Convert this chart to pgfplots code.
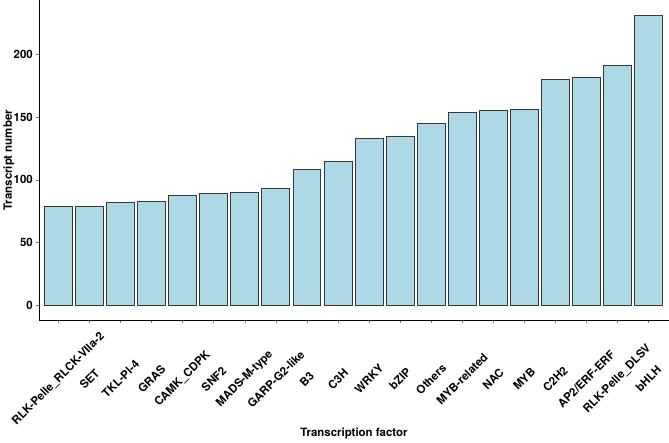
\documentclass[border=0pt]{standalone}
\usepackage{pgfplots}
\pgfplotsset{compat=1.18}
\usepackage{fontspec}
\setmainfont{TeX Gyre Heros}
\definecolor{barfill}{RGB}{173,216,230}
\definecolor{baredge}{RGB}{55,55,55}
\begin{document}
\begin{tikzpicture}
\begin{axis}[
  scale only axis, width=630bp, height=320bp,
  xmin=-0.62, xmax=19.65, ymin=-11.7, ymax=243,
  axis x line=bottom, axis y line=left,
  axis line style={-, line width=0.9bp, black},
  tick align=outside, major tick length=3bp,
  tick style={line width=0.6bp, black!55},
  xtick={0,...,19},
  xticklabels={RLK-Pelle\_RLCK-VIIa-2,SET,TKL-Pl-4,GRAS,CAMK\_CDPK,SNF2,MADS-M-type,GARP-G2-like,B3,C3H,WRKY,bZIP,Others,MYB-related,NAC,MYB,C2H2,AP2/ERF-ERF,RLK-Pelle\_DLSV,bHLH},
  ytick={0,50,100,150,200},
  /pgf/number format/assume math mode=true,
  tick label style={font=\fontsize{11.5}{13}\selectfont\bfseries, black},
  xticklabel style={yshift=-56bp, rotate=45, anchor=center},
  xlabel={Transcription factor}, ylabel={Transcript number},
  every axis x label/.style={at={(axis description cs:0.5,0)}, yshift=-117bp, anchor=base, font=\fontsize{11.5}{13}\selectfont\bfseries},
  every axis y label/.style={at={(axis description cs:0,0.5)}, xshift=-27.5bp, rotate=90, anchor=base, font=\fontsize{11.5}{13}\selectfont\bfseries},
  clip=false,
]
\addplot[ybar, bar width=0.9, bar shift=0pt, fill=barfill, draw=baredge, line width=0.8bp]
coordinates {
(0,79) (1,79) (2,82) (3,83) (4,88) (5,89) (6,90) (7,93) (8,108) (9,115)
(10,133) (11,135) (12,145) (13,154) (14,155) (15,156) (16,180) (17,182) (18,191) (19,231)
};
\end{axis}
\end{tikzpicture}
\end{document}
